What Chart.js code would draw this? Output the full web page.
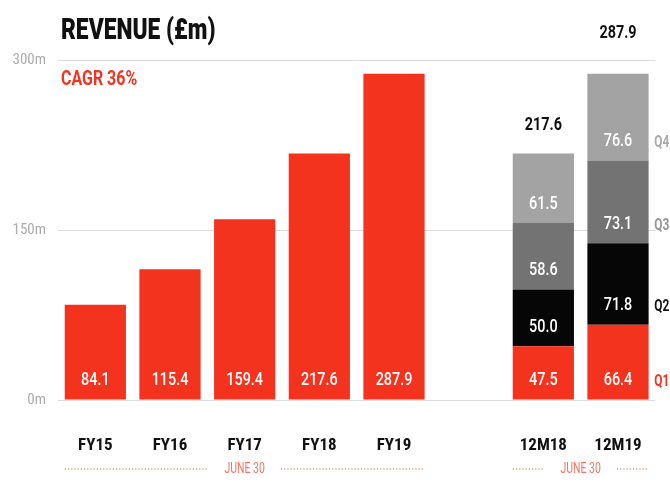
<!DOCTYPE html>
<html>
<head>
<meta charset="utf-8">
<script src="https://cdn.jsdelivr.net/npm/chart.js@4"></script>
<style>
  html, body { margin: 0; padding: 0; background: #fff; }
  #wrap { width: 670px; height: 489px; position: relative; }
</style>
</head>
<body>
<div id="wrap"><canvas id="revenueChart" width="670" height="489"></canvas></div>
<script>
// data
const categories = ['FY15', 'FY16', 'FY17', 'FY18', 'FY19', '', '12M18', '12M19'];
const annual = [84.1, 115.4, 159.4, 217.6, 287.9, null, null, null];
const q1 = [null, null, null, null, null, null, 47.5, 66.4];
const q2 = [null, null, null, null, null, null, 50.0, 71.8];
const q3 = [null, null, null, null, null, null, 58.6, 73.1];
const q4 = [null, null, null, null, null, null, 61.5, 76.6];
const totals = [null, null, null, null, null, null, 217.6, 287.9];
const quarterNames = ['Q1', 'Q2', 'Q3', 'Q4'];
const yTicks = [0, 150, 300];
const titleText = 'REVENUE (£m)';
const subtitleText = 'CAGR 36%';
const periodText = 'JUNE 30';

const RED = '#f4331f';
const FONT = "Roboto, 'Liberation Sans', sans-serif";

const quarterColors = [RED, '#060606', '#737373', '#a3a3a3'];
const quarterTextColors = [RED, '#111', '#959595', '#aaaaaa'];

// canvas text squeezed horizontally to mimic the condensed face of the original
function narrowText(c, text, x, y, sx) {
    c.save();
    c.translate(x, y);
    c.scale(sx, 1);
    c.fillText(text, 0, 0);
    c.restore();
}

const extras = {
    id: 'extras',
    afterDatasetsDraw(chart) {
        const c = chart.ctx;
        const x = chart.scales.x;
        const area = chart.chartArea;
        c.save();

        // title + CAGR
        c.textAlign = 'left';
        c.textBaseline = 'middle';
        c.fillStyle = '#111';
        c.font = '900 30px ' + FONT;
        narrowText(c, titleText, 61, 31, 0.76);
        c.fillStyle = RED;
        c.font = 'bold 21px ' + FONT;
        narrowText(c, subtitleText, 61, 80, 0.76);

        // white labels near the bottom of each bar / segment
        c.textAlign = 'center';
        c.fillStyle = '#fff';
        c.font = '500 18px ' + FONT;
        chart.data.datasets.forEach((ds, di) => {
            const meta = chart.getDatasetMeta(di);
            meta.data.forEach((bar, i) => {
                const v = ds.data[i];
                if (v == null) return;
                narrowText(c, v.toFixed(1), bar.x, bar.base - 19, 0.8);
            });
        });

        // totals above the 12M bars
        c.fillStyle = '#111';
        c.font = 'bold 18px ' + FONT;
        const topMeta = chart.getDatasetMeta(4);
        const totalGap = { 6: 28, 7: 40 };
        totals.forEach((t, i) => {
            if (t == null) return;
            const bar = topMeta.data[i];
            narrowText(c, t.toFixed(1), bar.x, bar.y - totalGap[i], 0.8);
        });

        // Q1..Q4 keys right of last bar
        c.textAlign = 'left';
        c.font = 'bold 17px ' + FONT;
        const last = categories.length - 1;
        quarterNames.forEach((q, k) => {
            const bar = chart.getDatasetMeta(k + 1).data[last];
            c.fillStyle = quarterTextColors[k];
            narrowText(c, q, area.right - 1, bar.base - 18, 0.7);
        });

        // dotted period rules
        const half = topMeta.data[0].width / 2;
        const ruleY = 469;
        const drawRule = (x0, x1, cx) => {
            c.font = '15px ' + FONT;
            c.textAlign = 'center';
            const w = c.measureText(periodText).width * 0.7;
            c.strokeStyle = '#ec9383';
            c.lineWidth = 1.4;
            c.setLineDash([1.2, 2]);
            c.beginPath();
            c.moveTo(x0, ruleY); c.lineTo(cx - w / 2 - 16, ruleY);
            c.moveTo(cx + w / 2 + 16, ruleY); c.lineTo(x1, ruleY);
            c.stroke();
            c.setLineDash([]);
            c.fillStyle = '#ee7563';
            narrowText(c, periodText, cx, ruleY, 0.7);
        };
        drawRule(x.getPixelForValue(0) - half, x.getPixelForValue(4) + half, x.getPixelForValue(2));
        drawRule(x.getPixelForValue(6) - half, x.getPixelForValue(7) + half,
            (x.getPixelForValue(6) + x.getPixelForValue(7)) / 2);

        c.restore();
    }
};

const ctx = document.getElementById('revenueChart').getContext('2d');
let revenueChart = new Chart(ctx, {
    type: 'bar',
    data: {
        labels: categories,
        datasets: [
            { label: 'Annual', data: annual, backgroundColor: RED },
            { label: 'Q1', data: q1, backgroundColor: quarterColors[0] },
            { label: 'Q2', data: q2, backgroundColor: quarterColors[1] },
            { label: 'Q3', data: q3, backgroundColor: quarterColors[2] },
            { label: 'Q4', data: q4, backgroundColor: quarterColors[3] }
        ]
    },
    options: {
        responsive: false,
        animation: false,
        layout: { padding: { top: 60, right: 6, left: 0, bottom: 0 } },
        datasets: {
            bar: { barPercentage: 0.82, categoryPercentage: 1, grouped: false }
        },
        plugins: {
            legend: { display: false },
            tooltip: { enabled: false }
        },
        scales: {
            x: {
                stacked: true,
                grid: { display: false },
                border: { display: false },
                ticks: {
                    color: '#111',
                    font: { family: "'Roboto Condensed', " + FONT, size: 17, weight: 'bold' },
                    padding: 28,
                    maxRotation: 0,
                    autoSkip: false
                },
                afterFit(scale) { scale.height = 89; }
            },
            y: {
                stacked: true,
                min: 0,
                max: 300,
                afterBuildTicks(scale) { scale.ticks = yTicks.map(v => ({ value: v })); },
                grid: { color: '#dcdcdc', lineWidth: 1, drawTicks: false },
                border: { display: false },
                ticks: {
                    color: '#ababab',
                    font: { family: "'Roboto Condensed', " + FONT, size: 15 },
                    padding: 12,
                    callback: v => v + 'm'
                },
                afterFit(scale) { scale.width = 58; }
            }
        }
    },
    plugins: [extras]
});
</script>
</body>
</html>
